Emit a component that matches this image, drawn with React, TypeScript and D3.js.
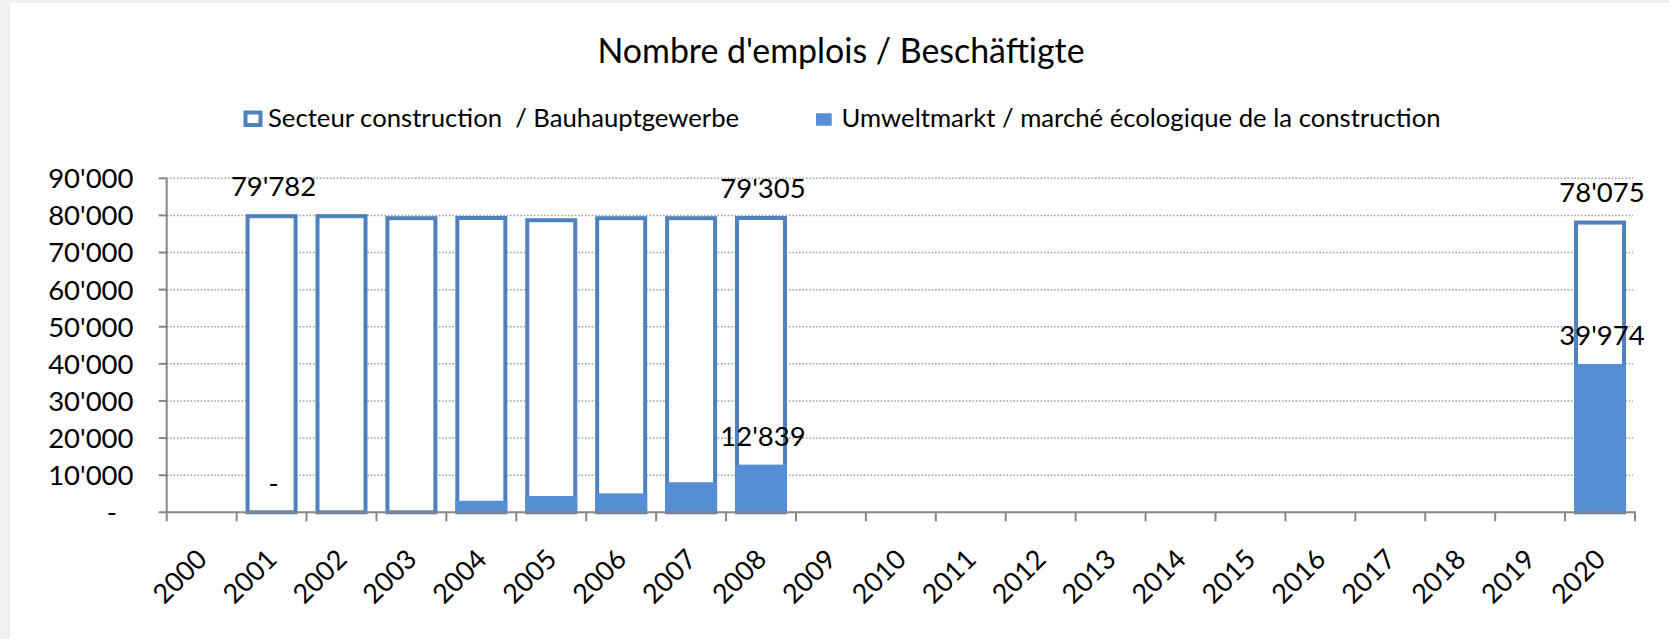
import React from 'react';
import * as d3 from 'd3';

// categories
const years = [
  '2000', '2001', '2002', '2003', '2004', '2005', '2006', '2007', '2008', '2009', '2010',
  '2011', '2012', '2013', '2014', '2015', '2016', '2017', '2018', '2019', '2020',
];

// Secteur construction / Bauhauptgewerbe
const secteurValues: (number | null)[] = [
  null, 79782, 79800, 79250, 79300, 78700, 79250, 79250, 79305, null, null,
  null, null, null, null, null, null, null, null, null, 78075,
];

// Umweltmarkt / marché écologique de la construction
const umweltValues: (number | null)[] = [
  null, 0, 0, 0, 3100, 4400, 5100, 8100, 12839, null, null,
  null, null, null, null, null, null, null, null, null, 39974,
];

// which bars carry a data label
const secteurLabelYears = ['2001', '2008', '2020'];
const umweltLabelYears = ['2001', '2008', '2020'];

const yTicks = [0, 10000, 20000, 30000, 40000, 50000, 60000, 70000, 80000, 90000];

const title = "Nombre d'emplois / Beschäftigte";
const legendSecteur = 'Secteur construction  / Bauhauptgewerbe';
const legendUmwelt = 'Umweltmarkt / marché écologique de la construction';

const W = 1669;
const H = 639;
const plot = { left: 166.7, right: 1635, top: 178.3, bottom: 512.3 };

const outlineBlue = '#4f81bd';
const fillBlue = '#558ed5';
const axisGray = '#868686';
const font = 'Lato, "Open Sans", sans-serif';

const locale = d3.formatLocale({ decimal: '.', thousands: "'", grouping: [3], currency: ['', ''] });
const fmtInt = locale.format(',d');
const fmt = (v: number) => (v === 0 ? '-' : fmtInt(v));

export default function App() {
  const x = d3.scaleBand<string>().domain(years).range([plot.left, plot.right]).padding(0);
  const y = d3.scaleLinear().domain([0, 90000]).range([plot.bottom, plot.top]);
  const step = x.step();
  const barW = 48; // stroke centred, outer ~52
  const outer = barW + 4;
  const cx = (yr: string) => (x(yr) as number) + step / 2;

  const tickXs = years.map((yr) => x(yr) as number).concat([plot.right]);

  return (
    <svg
      width={W}
      height={H}
      style={{ position: 'absolute', left: 0, top: 0, background: '#fff' }}
      fontFamily={font}
    >
      {/* window edges */}
      <rect x={0} y={0} width={10} height={H} fill="#f0f0f0" />
      <rect x={0} y={0} width={W} height={3} fill="#f0f0f0" />

      {/* title */}
      <text x={841} y={63} textAnchor="middle" fontSize={33.9} fill="#000">
        {title}
      </text>

      {/* legend */}
      <rect x={245.5} y={112.5} width={15} height={12.5} fill="#fff" stroke={outlineBlue} strokeWidth={4} />
      <text x={268} y={127} fontSize={25.7} fill="#000" style={{ whiteSpace: 'pre' }}>
        {legendSecteur}
      </text>
      <rect x={816} y={113.3} width={15.7} height={12.4} fill={fillBlue} />
      <text x={841.5} y={127} fontSize={25.7} fill="#000">
        {legendUmwelt}
      </text>

      {/* gridlines */}
      {yTicks.filter((t) => t > 0).map((t) => (
        <line
          key={'g' + t}
          x1={plot.left}
          x2={plot.right - 2}
          y1={y(t)}
          y2={y(t)}
          stroke="#a0a0a0"
          strokeWidth={1.5}
          strokeDasharray="1.6 1.8"
        />
      ))}

      {/* Secteur bars: white with blue outline */}
      {years.map((yr, i) => {
        const v = secteurValues[i];
        if (v == null) return null;
        return (
          <rect
            key={'s' + yr}
            x={cx(yr) - barW / 2}
            y={y(v)}
            width={barW}
            height={y(0) - y(v)}
            fill="#fff"
            stroke={outlineBlue}
            strokeWidth={4}
          />
        );
      })}

      {/* Umwelt bars: solid fill over the outline */}
      {years.map((yr, i) => {
        const v = umweltValues[i];
        if (v == null || v === 0) return null;
        return (
          <rect
            key={'u' + yr}
            x={cx(yr) - outer / 2}
            y={y(v)}
            width={outer}
            height={y(0) - y(v)}
            fill={fillBlue}
          />
        );
      })}

      {/* y axis */}
      <line x1={plot.left} x2={plot.left} y1={plot.top} y2={plot.bottom} stroke={axisGray} strokeWidth={2} />
      {yTicks.map((t) => (
        <g key={'y' + t}>
          <line x1={plot.left - 8} x2={plot.left} y1={y(t)} y2={y(t)} stroke={axisGray} strokeWidth={2} />
          <text
            x={t === 0 ? 117 : 133.5}
            y={y(t)}
            dy="0.36em"
            textAnchor="end"
            fontSize={27.5}
            fill="#000"
          >
            {fmt(t)}
          </text>
        </g>
      ))}

      {/* x axis */}
      <line x1={plot.left - 1} x2={plot.right + 1} y1={plot.bottom} y2={plot.bottom} stroke={axisGray} strokeWidth={2} />
      {tickXs.map((tx, i) => (
        <line key={'xt' + i} x1={tx} x2={tx} y1={plot.bottom} y2={plot.bottom + 9} stroke={axisGray} strokeWidth={2} />
      ))}
      {years.map((yr) => (
        <text
          key={'xl' + yr}
          transform={`translate(${cx(yr) + 7},${561}) rotate(-45)`}
          textAnchor="end"
          fontSize={27}
          fill="#000"
        >
          {yr}
        </text>
      ))}

      {/* data labels */}
      {years.map((yr, i) => {
        const v = secteurValues[i];
        if (v == null || !secteurLabelYears.includes(yr)) return null;
        return (
          <text key={'sl' + yr} x={cx(yr) + 2} y={y(v) - 30} dy="0.36em" textAnchor="middle" fontSize={27.5} fill="#000">
            {fmt(v)}
          </text>
        );
      })}
      {years.map((yr, i) => {
        const v = umweltValues[i];
        if (v == null || !umweltLabelYears.includes(yr)) return null;
        return (
          <text key={'ul' + yr} x={cx(yr) + 2} y={y(v) - 29} dy="0.36em" textAnchor="middle" fontSize={27.5} fill="#000">
            {fmt(v)}
          </text>
        );
      })}
    </svg>
  );
}
